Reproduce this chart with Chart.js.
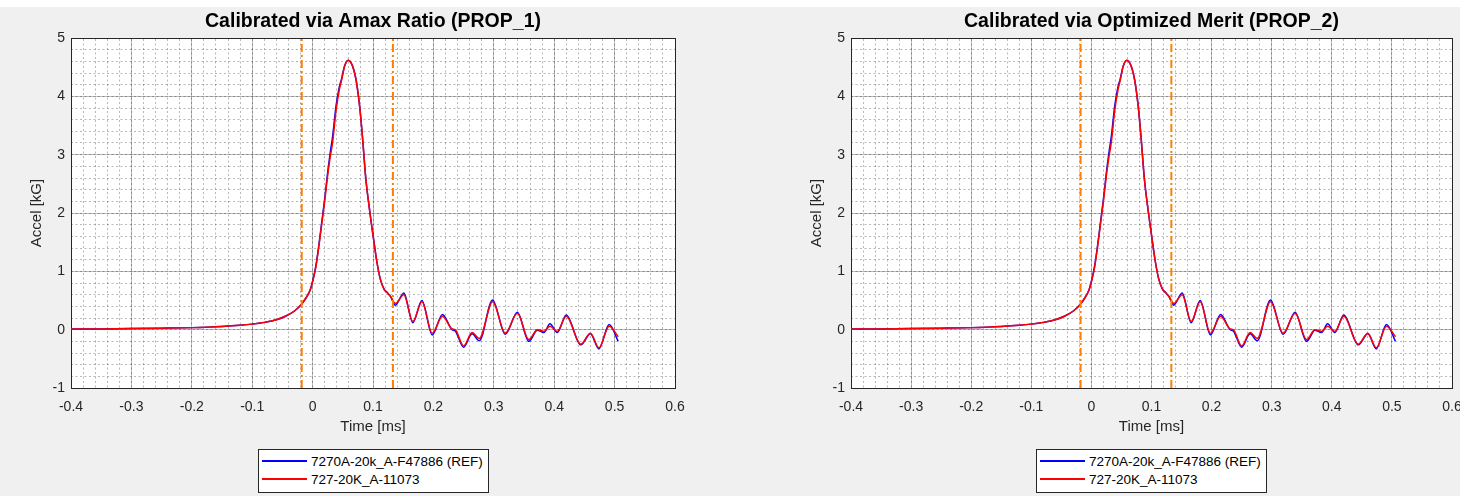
<!DOCTYPE html>
<html>
<head>
<meta charset="utf-8">
<script src="https://cdn.jsdelivr.net/npm/chart.js@4.4.1/dist/chart.umd.min.js"></script>
<style>
    html, body { margin: 0; padding: 0; }
    body {
        width: 1460px; height: 496px; overflow: hidden; position: relative;
        background: #f0f0f0; font-family: "Liberation Sans", Arial, Helvetica, sans-serif;
    }
    .top-strip { position: absolute; left: 0; top: 0; width: 1460px; height: 7px; background: #fff; }
    .panel { position: absolute; top: 0; }
    .legend {
        position: absolute; top: 449px; width: 229px; height: 40px; padding-top: 2px;
        box-sizing: content-box; background: #fff; border: 1px solid #262626;
        font-size: 13.5px; color: #000;
    }
    .legend .row { height: 18px; display: flex; align-items: center; }
    .legend .swatch { width: 45px; height: 1.5px; margin: 0 4px 0 3px; }
</style>
</head>
<body>
<div class="top-strip"></div>
<canvas id="chart-prop1" class="panel" style="left:0px" width="740" height="440"></canvas>
<canvas id="chart-prop2" class="panel" style="left:780px" width="700" height="440"></canvas>
<div id="legend-prop1" class="legend" style="left:258px"></div>
<div id="legend-prop2" class="legend" style="left:1036px"></div>

<script>
// tempo [ms]
const timeMs = [
    -0.400, -0.350, -0.300, -0.250, -0.200, -0.150, -0.120, -0.100, -0.080, -0.060,
    -0.045, -0.030, -0.018, -0.010, -0.004, 0.000, 0.005, 0.010, 0.015, 0.020,
    0.025, 0.029, 0.033, 0.039, 0.044, 0.048, 0.053, 0.059, 0.064, 0.068,
    0.072, 0.078, 0.083, 0.088, 0.095, 0.101, 0.106, 0.112, 0.118, 0.123,
    0.129, 0.137, 0.151, 0.166, 0.181, 0.198, 0.215, 0.231, 0.236, 0.250,
    0.264, 0.276, 0.298, 0.319, 0.339, 0.358, 0.372, 0.383, 0.393, 0.405,
    0.420, 0.444, 0.460, 0.474, 0.491, 0.506
];

// 7270A-20k_A-F47886 (REF)
const refAccel = [
    0.010, 0.013, 0.018, 0.025, 0.035, 0.055, 0.075, 0.095, 0.125, 0.170,
    0.230, 0.320, 0.440, 0.560, 0.680, 0.830, 1.070, 1.420, 1.830, 2.240,
    2.700, 3.020, 3.300, 3.850, 4.150, 4.300, 4.520, 4.620, 4.570, 4.460,
    4.280, 3.820, 3.250, 2.600, 2.000, 1.550, 1.190, 0.870, 0.700, 0.640,
    0.570, 0.420, 0.630, 0.120, 0.500, -0.090, 0.260, 0.000, -0.020, -0.300,
    -0.070, -0.190, 0.510, -0.080, 0.300, -0.200, -0.010, -0.050, 0.100, -0.050,
    0.250, -0.260, -0.070, -0.330, 0.090, -0.200
];

// 727-20K_A-11073
const devAccel = [
    0.010, 0.013, 0.018, 0.025, 0.035, 0.055, 0.075, 0.095, 0.125, 0.170,
    0.230, 0.320, 0.440, 0.560, 0.680, 0.820, 1.050, 1.400, 1.800, 2.200,
    2.650, 2.950, 3.200, 3.770, 4.100, 4.280, 4.520, 4.620, 4.570, 4.460,
    4.280, 3.820, 3.250, 2.600, 2.000, 1.550, 1.190, 0.870, 0.700, 0.640,
    0.570, 0.450, 0.600, 0.140, 0.480, -0.060, 0.230, 0.010, 0.000, -0.280,
    -0.050, -0.150, 0.480, -0.060, 0.280, -0.170, 0.000, -0.030, 0.060, -0.030,
    0.230, -0.250, -0.060, -0.310, 0.060, -0.120
];

const seriesLabels = ["7270A-20k_A-F47886 (REF)", "727-20K_A-11073"];
const windowMarksMs = [-0.018, 0.133];
const panelTitles = ["Calibrated via Amax Ratio (PROP_1)", "Calibrated via Optimized Merit (PROP_2)"];
const xRange = { min: -0.4, max: 0.6, major: 0.1, minor: 0.02 };
const yRange = { min: -1, max: 5, major: 1, minor: 0.2 };

const COLORS = { ref: "#0000ff", dev: "#ff0000", mark: "#ff8000", axis: "#262626" };

Chart.defaults.font.family = '"Liberation Sans", Arial, Helvetica, sans-serif';

const plotBackground = {
    id: "plotBackground",
    beforeDraw(chart) {
        const { ctx, chartArea: a } = chart;
        ctx.save();
        ctx.fillStyle = "#fff";
        ctx.fillRect(a.left, a.top, a.right - a.left, a.bottom - a.top);
        ctx.restore();
    }
};

function toPoints(ys) {
    return timeMs.map((t, i) => ({ x: t, y: ys[i] }));
}

function buildChart(canvasId, title, rightPad) {
    const marks = windowMarksMs.map(t => ({
        data: [{ x: t, y: yRange.min }, { x: t, y: yRange.max }],
        borderColor: COLORS.mark,
        borderWidth: 2,
        borderDash: [8, 3, 2, 3],
        pointRadius: 0,
        order: 1,
    }));

    return new Chart(document.getElementById(canvasId), {
        type: "line",
        data: {
            datasets: [
                { label: seriesLabels[0], data: toPoints(refAccel), borderColor: COLORS.ref, borderWidth: 1.5,
                  pointRadius: 0, cubicInterpolationMode: "monotone", order: 3 },
                { label: seriesLabels[1], data: toPoints(devAccel), borderColor: COLORS.dev, borderWidth: 1.5,
                  pointRadius: 0, cubicInterpolationMode: "monotone", order: 2 },
                ...marks,
            ],
        },
        options: {
            responsive: false,
            animation: false,
            devicePixelRatio: 1,
            layout: { padding: { left: 0, top: 0, right: rightPad, bottom: 0 } },
            plugins: {
                legend: { display: false },
                tooltip: { enabled: false },
                title: {
                    display: true, text: title, color: "#000", fullSize: false,
                    font: { size: 19.5, weight: "bold" }, padding: { top: 10, bottom: 4.6 },
                },
            },
            scales: {
                x: {
                    type: "linear", position: "bottom", min: xRange.min, max: xRange.max,
                    ticks: { stepSize: xRange.major, padding: 11, color: COLORS.axis, font: { size: 14 },
                             maxRotation: 0, autoSkip: false, callback: v => String(+v.toFixed(1)) },
                    grid: { color: "rgba(0,0,0,0.26)", drawTicks: false },
                    border: { color: COLORS.axis, width: 1 },
                    title: { display: true, text: "Time [ms]", color: COLORS.axis, font: { size: 15 },
                             padding: { top: 0, bottom: 4 } },
                    afterFit: s => { s.height = 52; },
                },
                y: {
                    type: "linear", position: "left", min: yRange.min, max: yRange.max,
                    ticks: { stepSize: yRange.major, padding: 6, color: COLORS.axis, font: { size: 14 } },
                    grid: { color: "rgba(0,0,0,0.26)", drawTicks: false },
                    border: { color: COLORS.axis, width: 1 },
                    title: { display: true, text: "Accel [kG]", color: COLORS.axis, font: { size: 15 },
                             padding: { top: 28, bottom: 0 } },
                    afterFit: s => { s.width = 71; },
                },
                xMinor: {
                    type: "linear", position: "top", min: xRange.min, max: xRange.max,
                    ticks: { display: false, stepSize: xRange.minor },
                    grid: { color: "rgba(0,0,0,0.28)", drawTicks: false, z: -1 },
                    border: { color: COLORS.axis, width: 1, dash: [2, 2.5] },
                    afterFit: s => { s.height = 0; },
                },
                yMinor: {
                    type: "linear", position: "right", min: yRange.min, max: yRange.max,
                    ticks: { display: false, stepSize: yRange.minor },
                    grid: { color: "rgba(0,0,0,0.28)", drawTicks: false, z: -1 },
                    border: { color: COLORS.axis, width: 1, dash: [2, 2.5] },
                    afterFit: s => { s.width = 0; },
                },
            },
        },
        plugins: [plotBackground],
    });
}

function buildLegend(elId) {
    const swatches = [COLORS.ref, COLORS.dev];
    document.getElementById(elId).innerHTML = seriesLabels.map((label, i) => `
        <div class="row">
            <span class="swatch" style="background:${swatches[i]}"></span>
            <span>${label}</span>
        </div>
    `).join("");
}

buildChart("chart-prop1", panelTitles[0], 65);
buildChart("chart-prop2", panelTitles[1], 28);
buildLegend("legend-prop1");
buildLegend("legend-prop2");
</script>
</body>
</html>
